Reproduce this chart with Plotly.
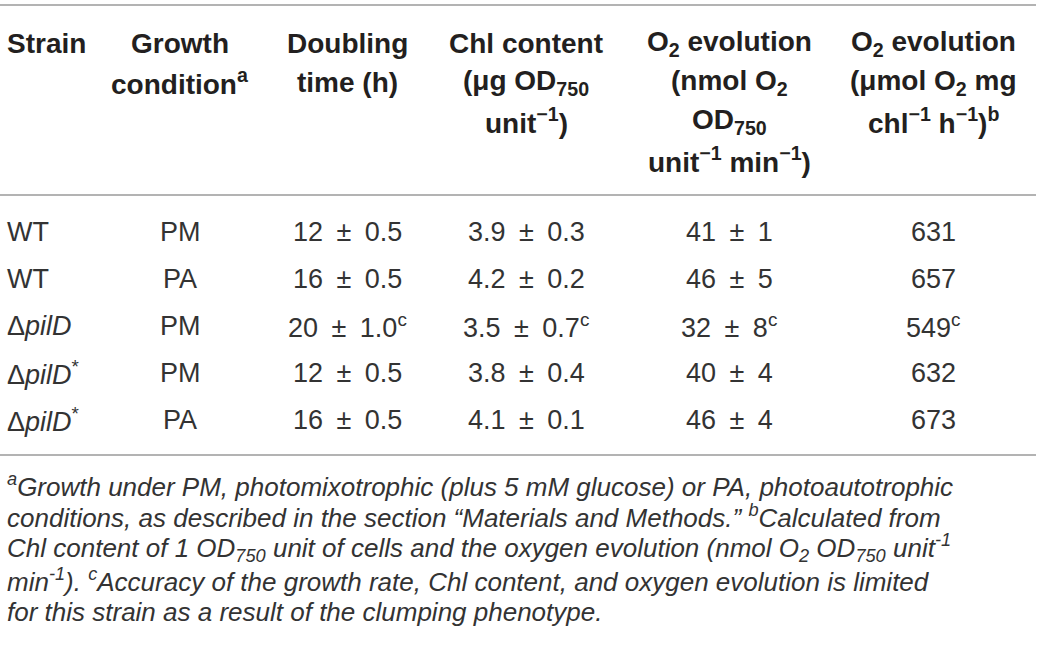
import plotly.graph_objects as go

# Table content
header_lines = [
    ["Strain"],
    ["Growth", "condition<sup>a</sup>"],
    ["Doubling", "time (h)"],
    ["Chl content", "(μg OD<sub>750</sub>", "unit<sup>−1</sup>)"],
    ["O<sub>2</sub> evolution", "(nmol O<sub>2</sub>", "OD<sub>750</sub>", "unit<sup>−1</sup> min<sup>−1</sup>)"],
    ["O<sub>2</sub> evolution", "(μmol O<sub>2</sub> mg", "chl<sup>−1</sup> h<sup>−1</sup>)<sup>b</sup>"],
]
strains = ["WT", "WT", "Δ<i>pilD</i>", "Δ<i>pilD</i><sup>*</sup>", "Δ<i>pilD</i><sup>*</sup>"]
conditions = ["PM", "PA", "PM", "PM", "PA"]
doubling = ["12 ± 0.5", "16 ± 0.5", "20 ± 1.0<sup>c</sup>", "12 ± 0.5", "16 ± 0.5"]
chl = ["3.9 ± 0.3", "4.2 ± 0.2", "3.5 ± 0.7<sup>c</sup>", "3.8 ± 0.4", "4.1 ± 0.1"]
o2_od = ["41 ± 1", "46 ± 5", "32 ± 8<sup>c</sup>", "40 ± 4", "46 ± 4"]
o2_chl = ["631", "657", "549<sup>c</sup>", "632", "673"]
footnote_lines = [
    "<sup>a</sup>Growth under PM, photomixotrophic (plus 5 mM glucose) or PA, photoautotrophic",
    "conditions, as described in the section “Materials and Methods.” <sup>b</sup>Calculated from",
    "Chl content of 1 OD<sub>750</sub> unit of cells and the oxygen evolution (nmol O<sub>2</sub> OD<sub>750</sub> unit<sup>-1</sup>",
    "min<sup>-1</sup>). <sup>c</sup>Accuracy of the growth rate, Chl content, and oxygen evolution is limited",
    "for this strain as a result of the clumping phenotype.",
]

W, H = 1041, 655
col_x = [5, 180, 347, 526, 729, 933]
header_y0, header_dy = 43, 39
row_y0, row_dy = 232, 47
foot_y0, foot_dy = 485, 31.7
ink = "#231f20"
body_font = "Liberation Sans, Arial, sans-serif"

fig = go.Figure()
fig.add_trace(go.Scatter(x=[0, W], y=[0, H], mode="markers", marker=dict(opacity=0), hoverinfo="skip"))

annotations = []
for i, lines in enumerate(header_lines):
    for j, txt in enumerate(lines):
        annotations.append(dict(
            x=col_x[i], y=header_y0 + j * header_dy, text="<b>" + txt + "</b>",
            xanchor="left" if i == 0 else "center", yanchor="middle", showarrow=False,
            font=dict(family=body_font, size=28, color=ink),
        ))

columns = [strains, conditions, doubling, chl, o2_od, o2_chl]
for i, col in enumerate(columns):
    for r, txt in enumerate(col):
        annotations.append(dict(
            x=col_x[i], y=row_y0 + r * row_dy, text=txt.replace(" ± ", "\u2002±\u2002"),
            xanchor="left" if i == 0 else "center", yanchor="middle", showarrow=False,
            font=dict(family=body_font, size=27, color="#333333"),
        ))

for k, txt in enumerate(footnote_lines):
    annotations.append(dict(
        x=5, y=foot_y0 + k * foot_dy, text="<i>" + txt + "</i>",
        xanchor="left", yanchor="middle", showarrow=False,
        font=dict(family=body_font, size=26, color="#333333"),
    ))

shapes = []
for yy in [5, 195, 455]:
    shapes.append(dict(type="line", xref="x", yref="y", x0=0, x1=1036, y0=yy, y1=yy,
                       line=dict(color="#9a9a9a", width=1.6)))

fig.update_layout(
    width=W, height=H, margin=dict(l=0, r=0, t=0, b=0),
    paper_bgcolor="white", plot_bgcolor="white", showlegend=False,
    annotations=annotations, shapes=shapes,
    xaxis=dict(range=[0, W], visible=False, fixedrange=True),
    yaxis=dict(range=[H, 0], visible=False, fixedrange=True),
)

fig.write_html("out.html", config={"displayModeBar": False},
               post_script="document.body.style.margin='0';")
